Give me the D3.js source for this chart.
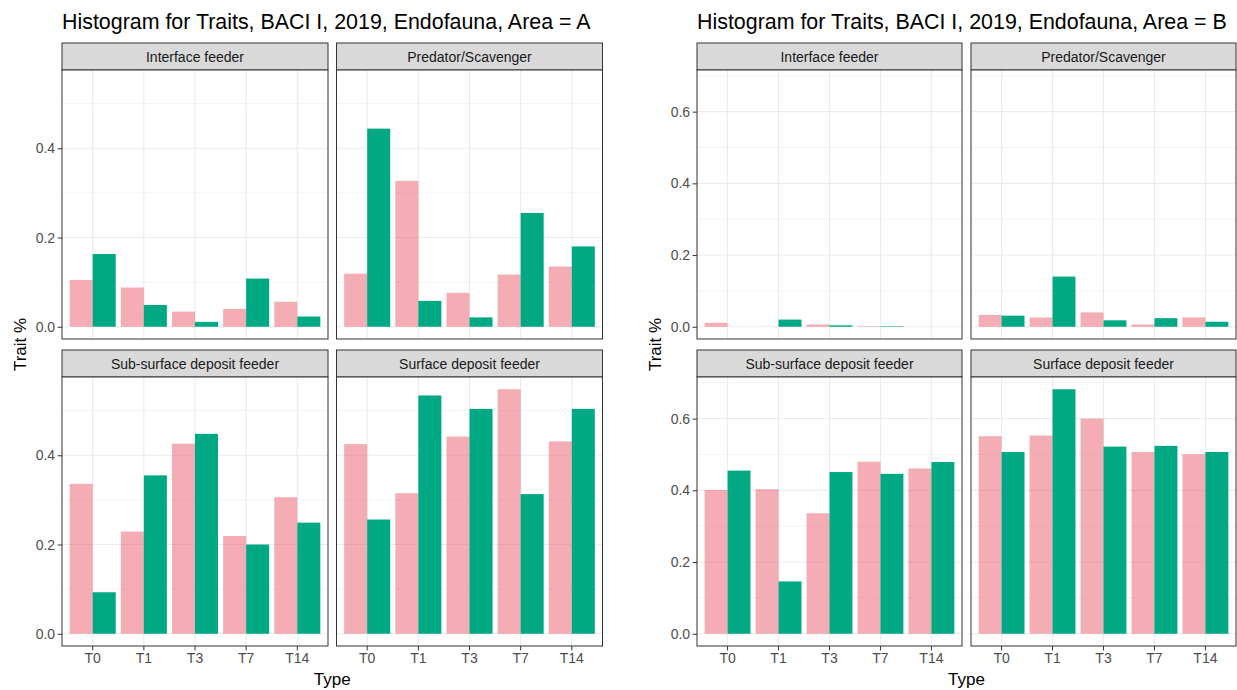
<!DOCTYPE html>
<html>
<head>
<meta charset="utf-8">
<script src="https://cdn.jsdelivr.net/npm/d3@7"></script>
<style>
  html, body { margin: 0; padding: 0; background: #fff; }
  svg { display: block; font-family: "Liberation Sans", Arial, sans-serif; }
</style>
</head>
<body>
<script>
// ---------- DATA ----------
const types = ["T0", "T1", "T3", "T7", "T14"];
const traits = ["Interface feeder", "Predator/Scavenger", "Sub-surface deposit feeder", "Surface deposit feeder"];

// Area A (rows follow `traits`, columns follow `types`)
const areaA_pink = [
  [0.105, 0.088, 0.034, 0.040, 0.056],
  [0.119, 0.327, 0.076, 0.117, 0.135],
  [0.336, 0.229, 0.426, 0.219, 0.306],
  [0.425, 0.315, 0.442, 0.548, 0.431]
];
const areaA_green = [
  [0.163, 0.049, 0.011, 0.108, 0.023],
  [0.444, 0.058, 0.021, 0.255, 0.180],
  [0.093, 0.355, 0.448, 0.200, 0.249],
  [0.256, 0.534, 0.504, 0.313, 0.504]
];

// Area B
const areaB_pink = [
  [0.011, 0.000, 0.0065, 0.0015, 0.000],
  [0.033, 0.026, 0.040, 0.0065, 0.026],
  [0.401, 0.403, 0.336, 0.480, 0.461],
  [0.551, 0.553, 0.600, 0.507, 0.501]
];
const areaB_green = [
  [0.000, 0.020, 0.004, 0.0015, 0.000],
  [0.031, 0.140, 0.018, 0.024, 0.014],
  [0.455, 0.146, 0.451, 0.446, 0.479],
  [0.507, 0.682, 0.522, 0.524, 0.507]
];

const majorTicksA = [0, 0.2, 0.4];
const minorTicksA = [0.1, 0.3, 0.5];
const majorTicksB = [0, 0.2, 0.4, 0.6];
const minorTicksB = [0.1, 0.3, 0.5, 0.7];

const titleA = "Histogram for Traits, BACI I, 2019, Endofauna, Area = A";
const titleB = "Histogram for Traits, BACI I, 2019, Endofauna, Area = B";
const xTitle = "Type";
const yTitle = "Trait %";

// ---------- STYLE ----------
const PINK = "#E9596B", PINK_OPACITY = 0.5;
const GREEN = "#00A884";
const GRID = "#EBEBEB";
const BORDER = "#333333";

const svg = d3.select("body").append("svg")
  .attr("width", 1237).attr("height", 690);

function drawChart(opts) {
  const { x0, panelW, gap, title, pink, green, major, minor } = opts;
  const stripTop = [43, 350];
  const stripH = 27;
  const plotH = 269;

  const g = svg.append("g");

  // title
  g.append("text")
    .attr("x", x0).attr("y", 29)
    .attr("font-size", 21.4).attr("fill", "#000")
    .text(title);

  const yMax = d3.max(pink.flat().concat(green.flat()));
  const y = d3.scaleLinear().domain([-0.05 * yMax, 1.05 * yMax]).range([plotH, 0]);
  const x = d3.scaleBand().domain(types).range([0, panelW])
    .paddingInner(0.1).paddingOuter(0.15);
  const sub = d3.scaleBand().domain(["pink", "green"]).range([0, x.bandwidth()]);

  traits.forEach((trait, i) => {
    const col = i % 2, row = Math.floor(i / 2);
    const px = x0 + col * (panelW + gap);
    const sTop = stripTop[row];
    const pTop = sTop + stripH;

    // strip
    g.append("rect")
      .attr("x", px).attr("y", sTop).attr("width", panelW).attr("height", stripH)
      .attr("fill", "#D9D9D9").attr("stroke", BORDER).attr("stroke-width", 1);
    g.append("text")
      .attr("x", px + panelW / 2).attr("y", sTop + stripH / 2 + 5)
      .attr("text-anchor", "middle").attr("font-size", 14).attr("fill", "#1A1A1A")
      .text(trait);

    const p = g.append("g").attr("transform", `translate(${px},${pTop})`);
    p.append("rect").attr("width", panelW).attr("height", plotH).attr("fill", "#fff");

    // minor grid
    p.selectAll(".minor").data(minor).join("line")
      .attr("x1", 0).attr("x2", panelW)
      .attr("y1", d => y(d)).attr("y2", d => y(d))
      .attr("stroke", GRID).attr("stroke-width", 0.6);
    // major grid
    p.selectAll(".majorY").data(major).join("line")
      .attr("x1", 0).attr("x2", panelW)
      .attr("y1", d => y(d)).attr("y2", d => y(d))
      .attr("stroke", GRID).attr("stroke-width", 1.1);
    p.selectAll(".majorX").data(types).join("line")
      .attr("y1", 0).attr("y2", plotH)
      .attr("x1", d => x(d) + x.bandwidth() / 2).attr("x2", d => x(d) + x.bandwidth() / 2)
      .attr("stroke", GRID).attr("stroke-width", 1.1);

    // bars
    p.selectAll(".pink").data(types).join("rect")
      .attr("x", d => x(d) + sub("pink"))
      .attr("width", sub.bandwidth())
      .attr("y", (d, k) => y(Math.max(0, pink[i][k])))
      .attr("height", (d, k) => Math.abs(y(0) - y(pink[i][k])))
      .attr("fill", PINK).attr("fill-opacity", PINK_OPACITY);
    p.selectAll(".green").data(types).join("rect")
      .attr("x", d => x(d) + sub("green"))
      .attr("width", sub.bandwidth())
      .attr("y", (d, k) => y(Math.max(0, green[i][k])))
      .attr("height", (d, k) => Math.abs(y(0) - y(green[i][k])))
      .attr("fill", GREEN);

    // border
    p.append("rect").attr("width", panelW).attr("height", plotH)
      .attr("fill", "none").attr("stroke", BORDER).attr("stroke-width", 1);

    // y axis on left column
    if (col === 0) {
      const ax = p.append("g").call(
        d3.axisLeft(y).tickValues(major).tickFormat(d3.format(".1f"))
          .tickSize(4.4).tickPadding(2.5));
      ax.select(".domain").remove();
      ax.selectAll(".tick line").attr("stroke", BORDER).attr("stroke-width", 1);
      ax.selectAll(".tick text").attr("font-size", 14).attr("fill", "#4D4D4D")
        .attr("font-family", "Liberation Sans, Arial, sans-serif");
    }
    // x axis on bottom row
    if (row === 1) {
      const ax = p.append("g").attr("transform", `translate(0,${plotH})`).call(
        d3.axisBottom(x).tickSize(4.4).tickPadding(2.5));
      ax.select(".domain").remove();
      ax.selectAll(".tick line").attr("stroke", BORDER).attr("stroke-width", 1);
      ax.selectAll(".tick text").attr("font-size", 14).attr("fill", "#4D4D4D")
        .attr("font-family", "Liberation Sans, Arial, sans-serif");
    }
  });

  // axis titles
  const totalW = 2 * panelW + gap;
  g.append("text")
    .attr("x", x0 + totalW / 2).attr("y", 685)
    .attr("text-anchor", "middle").attr("font-size", 17).attr("fill", "#000")
    .text(xTitle);
  g.append("text")
    .attr("transform", `translate(${x0 - 36},${(43 + 646) / 2}) rotate(-90)`)
    .attr("text-anchor", "middle").attr("font-size", 17).attr("fill", "#000")
    .text(yTitle);
}

drawChart({ x0: 62, panelW: 266, gap: 8.5, title: titleA,
  pink: areaA_pink, green: areaA_green, major: majorTicksA, minor: minorTicksA });
drawChart({ x0: 697, panelW: 265, gap: 9, title: titleB,
  pink: areaB_pink, green: areaB_green, major: majorTicksB, minor: minorTicksB });
</script>
</body>
</html>
